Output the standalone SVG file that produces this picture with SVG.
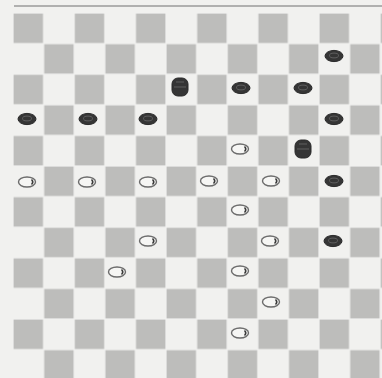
<svg xmlns="http://www.w3.org/2000/svg" width="382" height="378" viewBox="0 0 382 378">
<style>
.bm{fill:#353535;stroke:#2a2a2a;stroke-width:1}
.bmi{fill:none;stroke:#6a6a6a;stroke-width:0.8}
.wm{fill:#f6f6f4;stroke:#6c6c6c;stroke-width:1.4}
.wmi{fill:none;stroke:#3a3a3a;stroke-width:1.6}
</style>
<defs>
<pattern id="board" patternUnits="userSpaceOnUse" x="13" y="13" width="61.2" height="61.2">
<rect x="0.6" y="0.6" width="29.4" height="29.4" fill="#bdbdbb"/>
<rect x="31.2" y="31.2" width="29.4" height="29.4" fill="#bdbdbb"/>
</pattern>
<g id="black"><ellipse class="bm" cx="0" cy="0" rx="9" ry="5.6"/><ellipse class="bmi" cx="0" cy="-0.5" rx="4.5" ry="2.4"/></g>
<g id="king"><rect class="bm" x="-8" y="-9" width="16" height="18" rx="6"/><path class="bmi" d="M-6 0 H6 M-4 -5 H4"/></g>
<g id="white"><ellipse class="wm" cx="0" cy="0" rx="8.5" ry="5"/><path class="wmi" d="M4.5 -2.5 Q7 0 4.5 2.5"/></g>
</defs>
<rect width="382" height="378" fill="#f1f1ef"/>
<line x1="14" y1="6" x2="382" y2="6" stroke="#9a9a9a" stroke-width="1.6"/>
<rect x="13" y="13" width="369" height="365" fill="url(#board)"/>
<g id="black-pieces">
<use href="#black" x="334" y="56"/>
<use href="#black" x="241" y="88"/>
<use href="#black" x="303" y="88"/>
<use href="#black" x="27" y="119"/>
<use href="#black" x="88" y="119"/>
<use href="#black" x="148" y="119"/>
<use href="#black" x="334" y="119"/>
<use href="#black" x="334" y="181"/>
<use href="#black" x="333" y="241"/>
<use href="#king" x="180" y="87"/>
<use href="#king" x="303" y="149"/>
</g>
<g id="white-pieces">
<use href="#white" x="240" y="149"/>
<use href="#white" x="27" y="182"/>
<use href="#white" x="87" y="182"/>
<use href="#white" x="148" y="182"/>
<use href="#white" x="209" y="181"/>
<use href="#white" x="271" y="181"/>
<use href="#white" x="240" y="210"/>
<use href="#white" x="148" y="241"/>
<use href="#white" x="270" y="241"/>
<use href="#white" x="117" y="272"/>
<use href="#white" x="240" y="271"/>
<use href="#white" x="271" y="302"/>
<use href="#white" x="240" y="333"/>
</g>
</svg>
